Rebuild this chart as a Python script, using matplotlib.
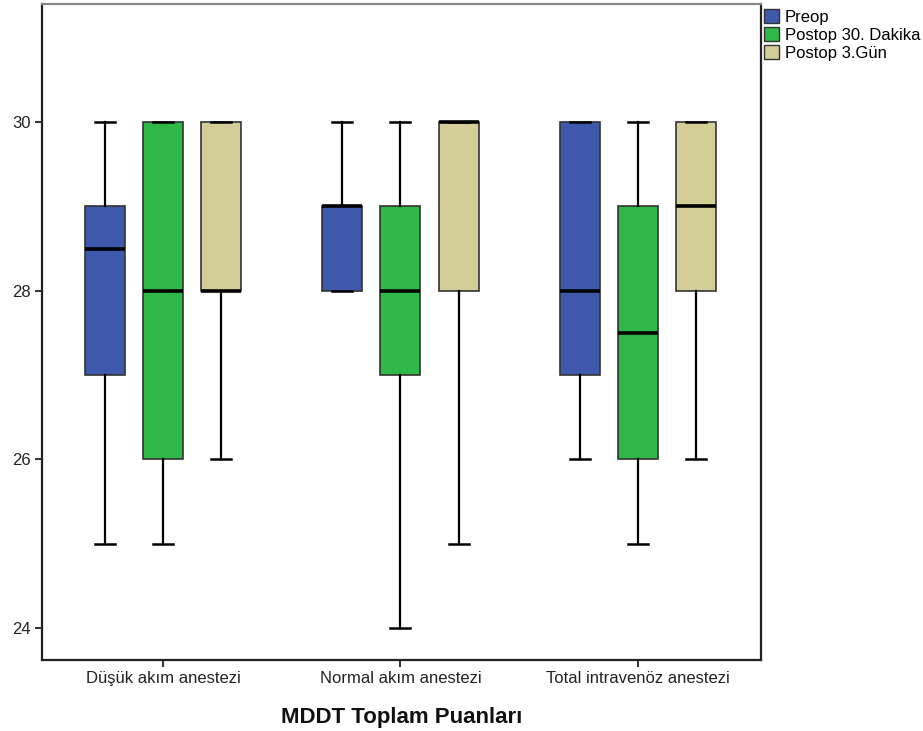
import matplotlib
matplotlib.use("Agg")
import matplotlib.pyplot as plt
from matplotlib.patches import Patch

plt.rcParams['font.family'] = ['Liberation Sans', 'DejaVu Sans']

groups = ["Düşük akım anestezi", "Normal akım anestezi", "Total intravenöz anestezi"]
series = ["Preop", "Postop 30. Dakika", "Postop 3.Gün"]
colors = ["#3E58AC", "#2EB848", "#D3CE97"]

# five-number summaries: (lower whisker, Q1, median, Q3, upper whisker)
preop = [(25, 27, 28.5, 29, 30), (28, 28, 29, 29, 30), (26, 27, 28, 30, 30)]
postop_30 = [(25, 26, 28, 30, 30), (24, 27, 28, 29, 30), (25, 26, 27.5, 29, 30)]
postop_3g = [(26, 28, 28, 30, 30), (25, 28, 30, 30, 30), (26, 28, 29, 30, 30)]
all_series = [preop, postop_30, postop_3g]

yticks = [24, 26, 28, 30]

fig = plt.figure(figsize=(9.23, 7.31), dpi=100)
ax = fig.add_axes([42 / 923, 71 / 731, 719 / 923, 656 / 731])

offsets = [-0.245, 0.0, 0.245]
box_w = 0.168
for s_idx, data in enumerate(all_series):
    stats = []
    for g_idx, (lo, q1, med, q3, hi) in enumerate(data):
        stats.append(dict(whislo=lo, q1=q1, med=med, q3=q3, whishi=hi, fliers=[]))
    pos = [g + offsets[s_idx] for g in range(len(groups))]
    ax.bxp(stats, positions=pos, widths=box_w, capwidths=box_w / 2,
           patch_artist=True, showfliers=False,
           boxprops=dict(facecolor=colors[s_idx], edgecolor="#333333", linewidth=1.2),
           medianprops=dict(color="black", linewidth=2.6, solid_capstyle="butt"),
           whiskerprops=dict(color="black", linewidth=1.6),
           capprops=dict(color="black", linewidth=1.8),
           zorder=3)

ax.set_xlim(-0.509, 2.518)
ax.set_ylim(23.62, 31.40)
ax.set_xticks(range(len(groups)))
ax.set_xticklabels(groups, fontsize=12, color="#222222")
ax.set_yticks(yticks)
ax.set_yticklabels([str(t) for t in yticks], fontsize=12, color="#222222")
ax.tick_params(axis="both", length=5, width=1.3, color="#222222", pad=3)

for side in ["left", "bottom", "right"]:
    ax.spines[side].set_linewidth(1.6)
    ax.spines[side].set_color("#222222")
ax.spines["top"].set_linewidth(1.6)
ax.spines["top"].set_color("#888888")

ax.set_xlabel("MDDT Toplam Puanları", fontsize=16, fontweight="bold",
              labelpad=15, color="#111111")

handles = [Patch(facecolor=c, edgecolor="#333333", linewidth=1.0, label=l)
           for c, l in zip(colors, series)]
fig.legend(handles=handles, loc="upper left", bbox_to_anchor=(759 / 923, 1 - 4 / 731),
           frameon=False, fontsize=12, handlelength=0.9, handleheight=0.9,
           handletextpad=0.35, labelspacing=0.15, borderpad=0.1, borderaxespad=0.2)

fig.savefig("out.png", dpi=100)
